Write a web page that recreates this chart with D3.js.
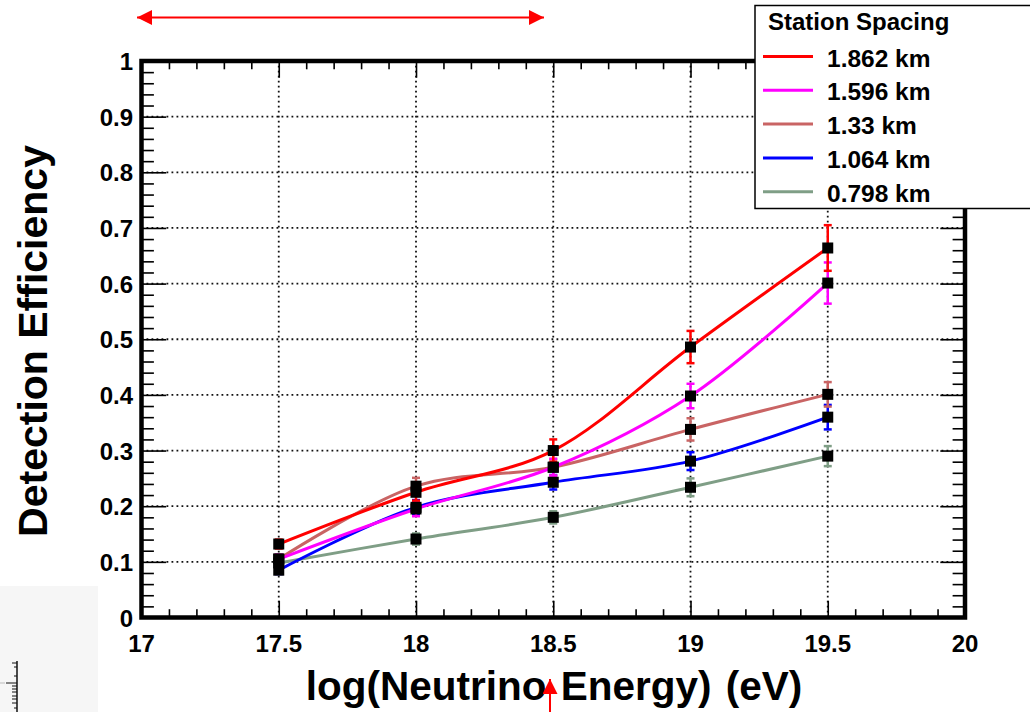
<!DOCTYPE html>
<html>
<head>
<meta charset="utf-8">
<script src="https://cdn.jsdelivr.net/npm/d3@7"></script>
<style>
  html, body { margin: 0; padding: 0; background: #fff; }
  svg { display: block; }
  text { font-family: "Liberation Sans", Arial, sans-serif; font-weight: bold; fill: #000; }
</style>
</head>
<body>
<svg id="chart" width="1030" height="712"></svg>
<script>
// log10 of neutrino energy (eV) at which efficiency was simulated
const energies = [17.5, 18, 18.5, 19, 19.5];

// station spacings shown in the legend
const spacings = ["1.862 km", "1.596 km", "1.33 km", "1.064 km", "0.798 km"];

// detection efficiency per spacing
const eff1862 = [0.132, 0.225, 0.300, 0.486, 0.664];
const eff1596 = [0.105, 0.195, 0.270, 0.398, 0.601];
const eff1330 = [0.105, 0.236, 0.270, 0.338, 0.401];
const eff1064 = [0.085, 0.198, 0.243, 0.281, 0.360];
const eff0798 = [0.098, 0.141, 0.180, 0.234, 0.290];

// statistical uncertainties
const err1862 = [0.008, 0.015, 0.020, 0.029, 0.041];
const err1596 = [0.008, 0.013, 0.015, 0.022, 0.037];
const err1330 = [0.008, 0.015, 0.015, 0.020, 0.022];
const err1064 = [0.007, 0.013, 0.013, 0.016, 0.022];
const err0798 = [0.006, 0.010, 0.011, 0.016, 0.018];

// axis tick labels
const xTickLabels = ["17", "17.5", "18", "18.5", "19", "19.5", "20"];
const yTickLabels = ["0", "0.1", "0.2", "0.3", "0.4", "0.5", "0.6", "0.7", "0.8", "0.9", "1"];

const xTitle = "log(Neutrino Energy) (eV)";
const yTitle = "Detection Efficiency";
const legendTitle = "Station Spacing";

// line colours, one per spacing
const colors = ["#ff0000", "#ff00ff", "#c96464", "#0000ff", "#7f9e86"];

const seriesValues = [eff1862, eff1596, eff1330, eff1064, eff0798];
const seriesErrors = [err1862, err1596, err1330, err1064, err0798];
const series = spacings.map((name, i) => ({
  name, color: colors[i],
  points: energies.map((e, j) => ({ x: e, y: seriesValues[i][j], err: seriesErrors[i][j] }))
}));

const svg = d3.select("#chart");

// light panel and small ruler glyph in the lower-left corner
svg.append("rect").attr("x", 0).attr("y", 586).attr("width", 98).attr("height", 126).attr("fill", "#f6f6f6");
const ruler = svg.append("g").attr("stroke", "#111").attr("stroke-width", 1);
ruler.append("line").attr("x1", 17).attr("x2", 17).attr("y1", 661).attr("y2", 712).attr("stroke-width", 1.5);
[[663, 12], [667, 14], [676, 14], [683, 6], [686, 12], [689, 12], [692, 12], [696, 12], [699, 12], [703, 12], [708, 14]]
  .forEach(([yy, x0]) => ruler.append("line").attr("x1", x0).attr("x2", 17).attr("y1", yy).attr("y2", yy));
svg.append("line").attr("x1", 0).attr("x2", 5).attr("y1", 683).attr("y2", 683).attr("stroke", "#bbb");

const x = d3.scaleLinear().domain([17, 20]).range([141.5, 965]);
const y = d3.scaleLinear().domain([0, 1]).range([617.5, 61]);
const [x0, x1] = x.range();
const [y0, y1] = y.range();

// dotted grid at major ticks
const grid = svg.append("g").attr("stroke", "#111").attr("stroke-width", 1.8).attr("stroke-dasharray", "1.8,3.2");
d3.range(17.5, 19.6, 0.5).forEach(v => grid.append("line").attr("x1", x(v)).attr("x2", x(v)).attr("y1", y0).attr("y2", y1));
d3.range(0.1, 0.95, 0.1).forEach(v => grid.append("line").attr("x1", x0).attr("x2", x1).attr("y1", y(v)).attr("y2", y(v)));

// tick marks on all four sides
const xMajor = d3.range(0, 7).map(i => 17 + i * 0.5);
const xMinor = d3.range(0, 31).map(i => 17 + i * 0.1).filter(v => Math.abs(v * 2 - Math.round(v * 2)) > 1e-6);
const yMajor = d3.range(0, 11).map(i => i / 10);
const yMinor = d3.range(0, 51).map(i => i / 50).filter(v => Math.abs(v * 10 - Math.round(v * 10)) > 1e-6);

function tickGroup(axis, size, values) {
  return svg.append("g").call(axis.tickValues(values).tickSize(size).tickFormat(""))
    .call(g => g.select(".domain").remove())
    .call(g => g.selectAll("line").attr("stroke", "#000").attr("stroke-width", 1.6));
}
tickGroup(d3.axisBottom(x), -16.7, xMajor).attr("transform", `translate(0,${y0})`);
tickGroup(d3.axisBottom(x), -8.3, xMinor).attr("transform", `translate(0,${y0})`);
tickGroup(d3.axisTop(x), -16.7, xMajor).attr("transform", `translate(0,${y1})`);
tickGroup(d3.axisTop(x), -8.3, xMinor).attr("transform", `translate(0,${y1})`);
tickGroup(d3.axisLeft(y), -24.7, yMajor).attr("transform", `translate(${x0},0)`);
tickGroup(d3.axisLeft(y), -12.4, yMinor).attr("transform", `translate(${x0},0)`);
tickGroup(d3.axisRight(y), -24.7, yMajor).attr("transform", `translate(${x1},0)`);
tickGroup(d3.axisRight(y), -12.4, yMinor).attr("transform", `translate(${x1},0)`);

// frame
svg.append("rect").attr("x", x0).attr("y", y1).attr("width", x1 - x0).attr("height", y0 - y1)
  .attr("fill", "none").attr("stroke", "#000").attr("stroke-width", 4.5);

// tick labels
svg.append("g").selectAll("text").data(xTickLabels).join("text")
  .attr("x", d => x(+d)).attr("y", 652).attr("text-anchor", "middle")
  .attr("font-size", 24).text(d => d);
svg.append("g").selectAll("text").data(yTickLabels).join("text")
  .attr("x", 133).attr("y", d => y(+d) + 9).attr("text-anchor", "end")
  .attr("font-size", 24).text(d => d);

// axis titles
svg.append("text").attr("x", 554).attr("y", 700).attr("text-anchor", "middle")
  .attr("font-size", 40.5).attr("word-spacing", 3).text(xTitle);
svg.append("text").attr("transform", "translate(47,341) rotate(-90)").attr("text-anchor", "middle")
  .attr("font-size", 41).text(yTitle);

// series: smooth curve, error bars, square markers
const line = d3.line().x(d => x(d.x)).y(d => y(d.y)).curve(d3.curveCatmullRom.alpha(0.5));
const drawOrder = [4, 3, 2, 1, 0];
drawOrder.forEach(i => {
  const s = series[i];
  const g = svg.append("g");
  g.append("path").datum(s.points).attr("d", line)
    .attr("fill", "none").attr("stroke", s.color).attr("stroke-width", 3);
  const eb = g.append("g").attr("stroke", s.color).attr("stroke-width", 2.5);
  s.points.forEach(p => {
    eb.append("line").attr("x1", x(p.x)).attr("x2", x(p.x)).attr("y1", y(p.y - p.err)).attr("y2", y(p.y + p.err));
    [p.y - p.err, p.y + p.err].forEach(v =>
      eb.append("line").attr("x1", x(p.x) - 4).attr("x2", x(p.x) + 4).attr("y1", y(v)).attr("y2", y(v)));
  });
});
drawOrder.forEach(i => {
  svg.append("g").selectAll("rect").data(series[i].points).join("rect")
    .attr("x", d => x(d.x) - 5.5).attr("y", d => y(d.y) - 5.5)
    .attr("width", 11).attr("height", 11).attr("fill", "#000");
});

// legend
const lg = svg.append("g");
lg.append("rect").attr("x", 755).attr("y", 5.5).attr("width", 290).attr("height", 203)
  .attr("fill", "#fff").attr("stroke", "#000").attr("stroke-width", 1.5);
lg.append("text").attr("x", 768).attr("y", 30).attr("font-size", 24).text(legendTitle);
series.forEach((s, i) => {
  const cy = 56.5 + i * 33.8;
  lg.append("line").attr("x1", 763).attr("x2", 813).attr("y1", cy).attr("y2", cy)
    .attr("stroke", s.color).attr("stroke-width", 3);
  lg.append("text").attr("x", 827).attr("y", cy + 10).attr("font-size", 24.5).text(s.name);
});

// red range arrows
const defs = svg.append("defs");
defs.append("marker").attr("id", "head").attr("viewBox", "0 0 15 15").attr("refX", 15).attr("refY", 7.5)
  .attr("markerWidth", 15).attr("markerHeight", 15).attr("markerUnits", "userSpaceOnUse").attr("orient", "auto-start-reverse")
  .append("path").attr("d", "M0,0 L15,7.5 L0,15 Z").attr("fill", "#ff0000");
svg.append("line").attr("x1", 137).attr("x2", 544).attr("y1", 17.5).attr("y2", 17.5)
  .attr("stroke", "#ff0000").attr("stroke-width", 2)
  .attr("marker-start", "url(#head)").attr("marker-end", "url(#head)");
svg.append("line").attr("x1", 550).attr("x2", 550).attr("y1", 712).attr("y2", 679)
  .attr("stroke", "#ff0000").attr("stroke-width", 2).attr("marker-end", "url(#head)");
</script>
</body>
</html>
